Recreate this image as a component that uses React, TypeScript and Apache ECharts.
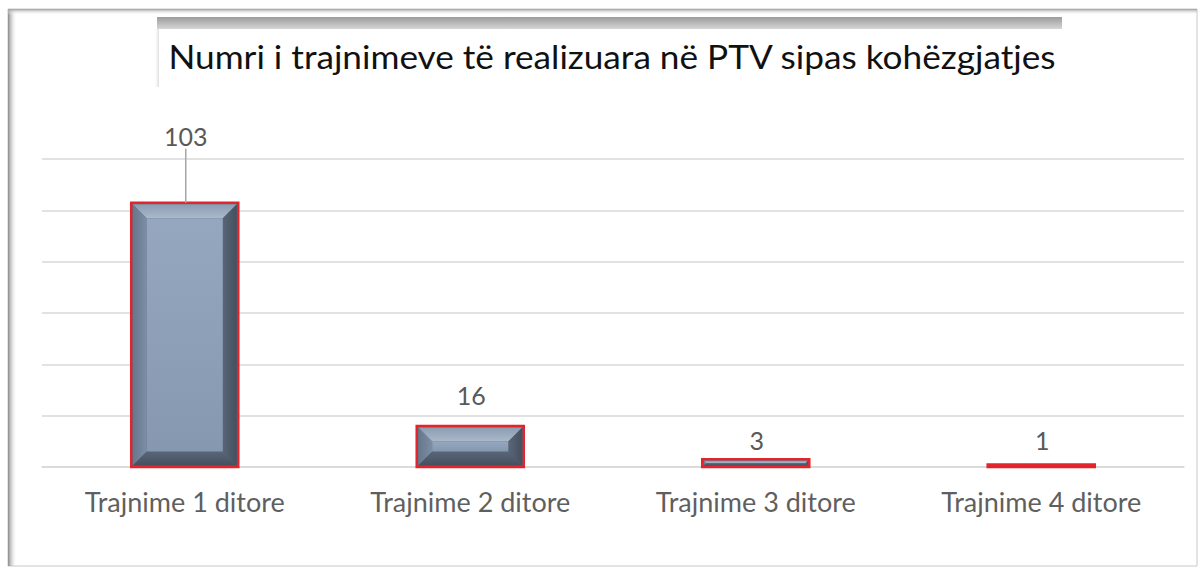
import React, { useEffect, useRef } from "react";
import * as echarts from "echarts";

const categories = ["Trajnime 1 ditore", "Trajnime 2 ditore", "Trajnime 3 ditore", "Trajnime 4 ditore"];
const values = [103, 16, 3, 1];
const titleText = "Numri i trajnimeve të realizuara në PTV sipas kohëzgjatjes";

const FONT = "Lato, 'Open Sans', sans-serif";
const LABEL_GAP = 19;
// manual offsets of the data labels (as moved in the original chart), in px
const LABEL_LIFTS = [48, 12, 0, 5];

export default function App() {
  const ref = useRef<HTMLDivElement>(null);
  useEffect(() => {
    if (!ref.current) return;
    const chart = echarts.init(ref.current, null, { renderer: "svg" });
    const renderItem = (params: any, api: any) => {
      const idx = api.value(0);
      const val = api.value(1);
      const top = api.coord([idx, val]);
      const base = api.coord([idx, 0]);
      const w = api.size([1, 0])[0] * 0.375;
      const x0 = top[0] - w / 2;
      const x1 = x0 + w;
      const y0 = top[1];
      const y1 = base[1];
      const h = y1 - y0;
      const children: any[] = [];
      children.push({
        type: "rect",
        shape: { x: x0, y: y0, width: w, height: h },
        style: { fill: "#58657a", stroke: "#e3252b", lineWidth: 2.5 },
      });
      const ix0 = x0 + 1.5, ix1 = x1 - 1.5, iy0 = y0 + 1.5, iy1 = y1 - 1.5;
      const ih = iy1 - iy0;
      if (ih > 3) {
        const b = Math.min(14, ih / 2, (ix1 - ix0) / 2);
        children.push({
          type: "polygon",
          shape: { points: [[ix0, iy0], [ix1, iy0], [ix1 - b, iy0 + b], [ix0 + b, iy0 + b]] },
          style: { fill: { type: "linear", x: 0, y: 0, x2: 0, y2: 1, colorStops: [{ offset: 0, color: "#8c9cb1" }, { offset: 1, color: "#aab8ca" }] } },
        });
        children.push({
          type: "polygon",
          shape: { points: [[ix0, iy0], [ix0 + b, iy0 + b], [ix0 + b, iy1 - b], [ix0, iy1]] },
          style: { fill: { type: "linear", x: 0, y: 0, x2: 1, y2: 0, colorStops: [{ offset: 0, color: "#66768c" }, { offset: 1, color: "#7d8ea5" }] } },
        });
        children.push({
          type: "polygon",
          shape: { points: [[ix1, iy0], [ix1, iy1], [ix1 - b, iy1 - b], [ix1 - b, iy0 + b]] },
          style: { fill: { type: "linear", x: 0, y: 0, x2: 1, y2: 0, colorStops: [{ offset: 0, color: "#5a6678" }, { offset: 1, color: "#454f5d" }] } },
        });
        children.push({
          type: "polygon",
          shape: { points: [[ix0, iy1], [ix0 + b, iy1 - b], [ix1 - b, iy1 - b], [ix1, iy1]] },
          style: { fill: { type: "linear", x: 0, y: 0, x2: 0, y2: 1, colorStops: [{ offset: 0, color: "#5a6679" }, { offset: 1, color: "#454f5e" }] } },
        });
        if (ih - 2 * b > 0) {
          children.push({
            type: "rect",
            shape: { x: ix0 + b, y: iy0 + b, width: ix1 - ix0 - 2 * b, height: ih - 2 * b },
            style: { fill: { type: "linear", x: 0, y: 0, x2: 0, y2: 1, colorStops: [{ offset: 0, color: "#95a7be" }, { offset: 0.5, color: "#8ea0b8" }, { offset: 1, color: "#8698b0" }] } },
          });
        }
      }
      const lift = LABEL_LIFTS[params.dataIndex] || 0;
      const ly = y0 - LABEL_GAP - lift;
      if (lift > 30) {
        children.push({
          type: "line",
          shape: { x1: top[0] + 1, y1: ly + 13, x2: top[0] + 1, y2: y0 },
          style: { stroke: "#a6a6a6", lineWidth: 1.5 },
        });
      }
      children.push({
        type: "text",
        style: {
          text: String(val),
          x: top[0] + 1,
          y: ly,
          align: "center",
          verticalAlign: "middle",
          fill: "#595959",
          font: `25px ${FONT}`,
        },
      });
      return { type: "group", children };
    };

    chart.setOption({
      animation: false,
      backgroundColor: "#ffffff",
      grid: { left: 42, right: 17, top: 159, bottom: 104, containLabel: false },
      xAxis: {
        type: "category",
        data: categories,
        axisLine: { show: true, lineStyle: { color: "#d9d9d9", width: 1.5 } },
        axisTick: { show: false },
        axisLabel: { color: "#5f5f5f", fontSize: 27, fontFamily: FONT, margin: 21 },
      },
      yAxis: {
        type: "value",
        min: 0,
        max: 120,
        interval: 20,
        axisLabel: { show: false },
        axisLine: { show: false },
        axisTick: { show: false },
        splitLine: { lineStyle: { color: "#d9d9d9", width: 1.5 } },
      },
      series: [
        {
          type: "custom",
          renderItem,
          data: values.map((v, i) => [i, v]),
          encode: { x: 0, y: 1 },
          z: 5,
        },
      ],
      graphic: [
        { type: "rect", z: -10, shape: { x: 8, y: 9, width: 1189, height: 557 }, style: { fill: "#fff", stroke: "#c8c8c8", lineWidth: 1 } },
        { type: "rect", z: -9, shape: { x: 8, y: 9, width: 9, height: 557 }, style: { fill: { type: "linear", x: 0, y: 0, x2: 1, y2: 0, colorStops: [{ offset: 0, color: "#8a8a8a" }, { offset: 1, color: "rgba(255,255,255,0)" }] } } },
        { type: "rect", z: -9, shape: { x: 8, y: 9, width: 1189, height: 6 }, style: { fill: { type: "linear", x: 0, y: 0, x2: 0, y2: 1, colorStops: [{ offset: 0, color: "#a0a0a0" }, { offset: 1, color: "rgba(255,255,255,0)" }] } } },
        { type: "rect", z: -8, shape: { x: 157, y: 17, width: 905, height: 12 }, style: { fill: { type: "linear", x: 0, y: 0, x2: 0, y2: 1, colorStops: [{ offset: 0, color: "#9c9c9c" }, { offset: 1, color: "#d6d6d6" }] } } },
        { type: "rect", z: -8, shape: { x: 154, y: 29, width: 5, height: 58 }, style: { fill: { type: "linear", x: 0, y: 0, x2: 1, y2: 0, colorStops: [{ offset: 0, color: "rgba(255,255,255,0)" }, { offset: 1, color: "#dcdcdc" }] } } },
        { type: "rect", z: -7, shape: { x: 159, y: 29, width: 903, height: 60 }, style: { fill: "#ffffff" } },
        {
          type: "text",
          z: 10,
          x: 612,
          y: 57,
          scaleX: 1.1,
          style: { text: titleText, align: "center", verticalAlign: "middle", fill: "#111111", font: `32px ${FONT}` },
        },
      ],
    });
    return () => chart.dispose();
  }, []);
  return <div ref={ref} style={{ position: "fixed", left: 0, top: 0, width: 1201, height: 571 }} />;
}
